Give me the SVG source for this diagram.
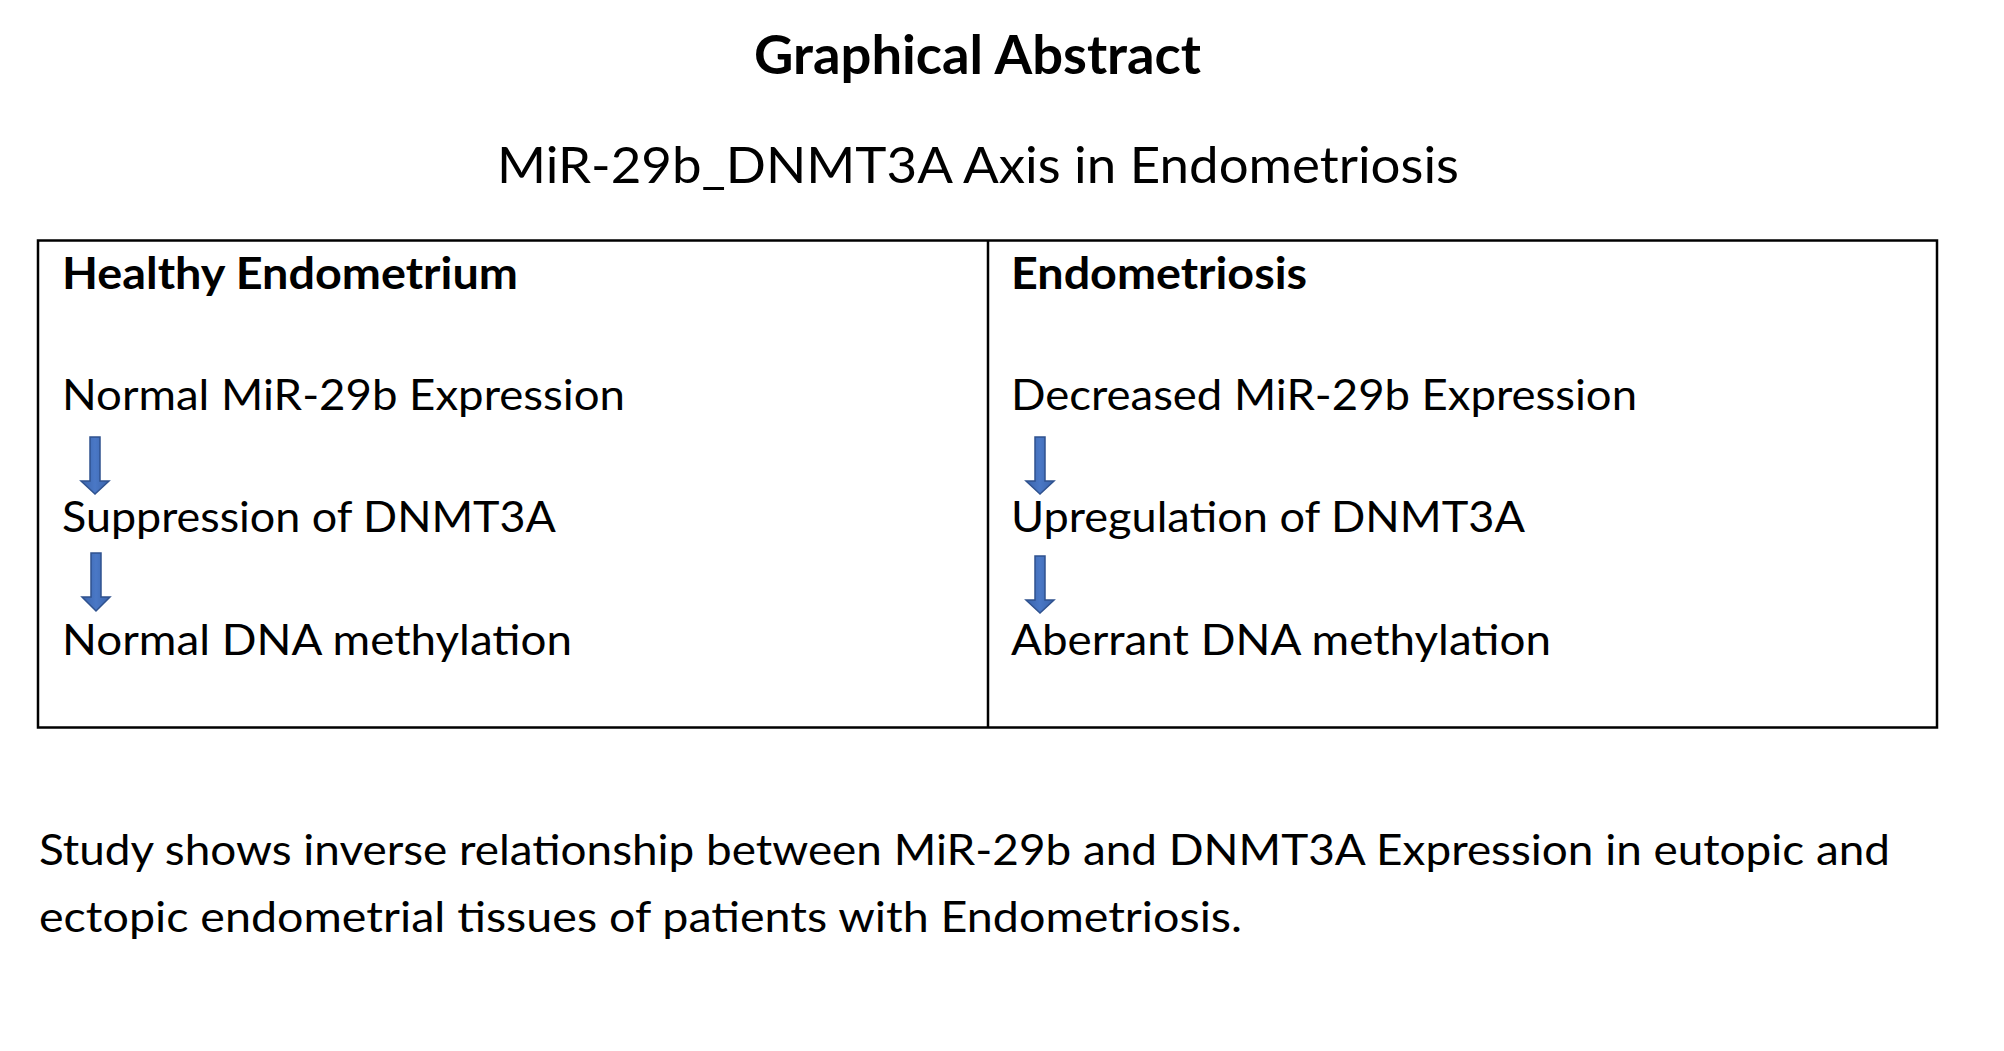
<svg xmlns="http://www.w3.org/2000/svg" width="2004" height="1051" viewBox="0 0 2004 1051">
<defs>
<style>
text{font-family:Lato,"Open Sans","Liberation Sans",sans-serif;fill:#000}
.t{font-size:53px;font-weight:700}
.st{font-size:50px}
.h{font-size:44px;font-weight:700}
.b{font-size:43px}
.arrow{fill:url(#ag);stroke:#2F528F;stroke-width:1.5}
.frame{fill:none;stroke:#000;stroke-width:2.5}
</style>
<linearGradient id="ag" x1="0" y1="0" x2="1" y2="0">
<stop offset="0" stop-color="#3A63AA"/>
<stop offset="0.5" stop-color="#4A78C6"/>
<stop offset="1" stop-color="#3A63AA"/>
</linearGradient>
</defs>
<rect width="2004" height="1051" fill="#fff"/>
<g id="title">
<text class="t" x="754" y="74" textLength="447" lengthAdjust="spacingAndGlyphs">Graphical Abstract</text>
<text class="st" x="497" y="183" textLength="962" lengthAdjust="spacingAndGlyphs">MiR-29b_DNMT3A Axis in Endometriosis</text>
</g>
<g id="table">
<rect class="frame" x="38" y="240.5" width="1899" height="487"/>
<line x1="988" y1="240.5" x2="988" y2="727.5" stroke="#000" stroke-width="2.5"/>
</g>
<g id="healthy-header"><text class="h" x="62" y="289" textLength="456" lengthAdjust="spacingAndGlyphs">Healthy Endometrium</text></g>
<g id="healthy-mir"><text class="b" x="62" y="409.5" textLength="563" lengthAdjust="spacingAndGlyphs">Normal MiR-29b Expression</text></g>
<g id="healthy-dnmt"><text class="b" x="62" y="532" textLength="494" lengthAdjust="spacingAndGlyphs">Suppression of DNMT3A</text></g>
<g id="healthy-meth"><text class="b" x="62" y="655" textLength="510" lengthAdjust="spacingAndGlyphs">Normal DNA methylation</text></g>
<g id="endo-header"><text class="h" x="1011" y="289" textLength="296" lengthAdjust="spacingAndGlyphs">Endometriosis</text></g>
<g id="endo-mir"><text class="b" x="1011" y="409.5" textLength="626" lengthAdjust="spacingAndGlyphs">Decreased MiR-29b Expression</text></g>
<g id="endo-dnmt"><text class="b" x="1011" y="532" textLength="514" lengthAdjust="spacingAndGlyphs">Upregulation of DNMT3A</text></g>
<g id="endo-meth"><text class="b" x="1011" y="655" textLength="540" lengthAdjust="spacingAndGlyphs">Aberrant DNA methylation</text></g>
<g id="connectors">
<path class="arrow" d="M90,437 H100 V481 H109 L95,494 L81,481 H90 Z"/>
<path class="arrow" d="M91,553 H101 V597 H110 L96,611 L82,597 H91 Z"/>
<path class="arrow" d="M1035,437 H1045 V481 H1054 L1040,494 L1026,481 H1035 Z"/>
<path class="arrow" d="M1035,556 H1045 V600 H1054 L1040,613 L1026,600 H1035 Z"/>
</g>
<g id="note">
<text class="b" x="39" y="865" textLength="1851" lengthAdjust="spacingAndGlyphs">Study shows inverse relationship between MiR-29b and DNMT3A Expression in eutopic and</text>
<text class="b" x="39" y="932" textLength="1203" lengthAdjust="spacingAndGlyphs">ectopic endometrial tissues of patients with Endometriosis.</text>
</g>
</svg>
